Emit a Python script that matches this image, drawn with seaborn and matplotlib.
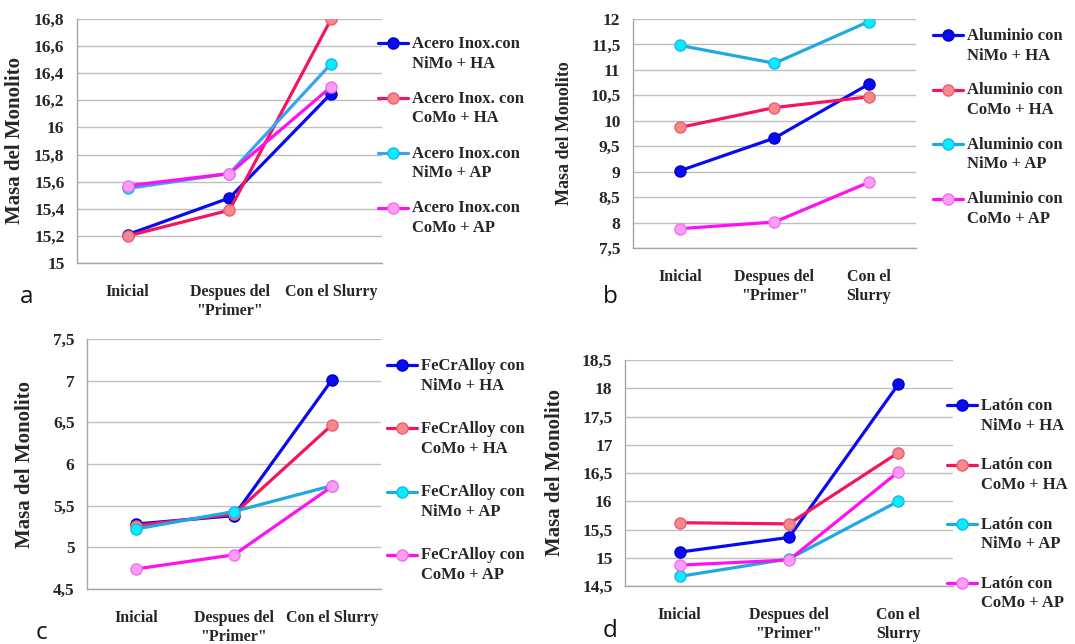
import numpy as np
import matplotlib
matplotlib.use("Agg")
import matplotlib.pyplot as plt
import seaborn as sns
from matplotlib.legend_handler import HandlerLine2D
from matplotlib.ticker import FuncFormatter

# ---- data -------------------------------------------------------------
etapas_ac = ["Inicial", "Despues del\n\"Primer\"", "Con el Slurry"]
etapas_bd = ["Inicial", "Despues del\n\"Primer\"", "Con el\nSlurry"]
recubrimientos = ["NiMo + HA", "CoMo + HA", "NiMo + AP", "CoMo + AP"]

acero_nimo_ha = [15.21, 15.48, 16.25]
acero_como_ha = [15.20, 15.39, 16.80]
acero_nimo_ap = [15.55, 15.66, 16.47]
acero_como_ap = [15.57, 15.66, 16.30]

aluminio_nimo_ha = [9.02, 9.66, 10.72]
aluminio_como_ha = [9.87, 10.26, 10.47]
aluminio_nimo_ap = [11.48, 11.13, 11.95]
aluminio_como_ap = [7.88, 8.01, 8.79]

fecr_nimo_ha = [5.28, 5.38, 7.01]
fecr_como_ha = [5.26, 5.40, 6.47]
fecr_nimo_ap = [5.22, 5.43, 5.74]
fecr_como_ap = [4.74, 4.91, 5.73]

laton_nimo_ha = [15.10, 15.36, 18.07]
laton_como_ha = [15.62, 15.60, 16.86]
laton_nimo_ap = [14.67, 14.98, 16.00]
laton_como_ap = [14.87, 14.96, 16.52]

etiquetas_acero = ["Acero Inox.con", "Acero Inox. con", "Acero Inox.con", "Acero Inox.con"]
etiquetas_aluminio = ["Aluminio con"] * 4
etiquetas_fecr = ["FeCrAlloy con"] * 4
etiquetas_laton = ["Latón con"] * 4

# ---- style ------------------------------------------------------------
sns.set_theme(style="white")
plt.rcParams["font.family"] = ["Liberation Serif", "DejaVu Serif"]
plt.rcParams["font.weight"] = "bold"
plt.rcParams["axes.labelweight"] = "bold"

GRID = "#BFBFBF"
AXIS = "#A6A6A6"

# line colour, marker face, marker edge for each coating
estilos = [
    ("#0A0AF0", "#0A0AF0", "#0000C8"),
    ("#F5145F", "#F4898C", "#EE5E72"),
    ("#1EAAE0", "#00F0FF", "#22B4E8"),
    ("#FF10F0", "#FF9CF6", "#F070EE"),
]


class FirstLineHandler(HandlerLine2D):
    """Legend handle raised to sit beside the first line of a two-line label."""

    def __init__(self, lift, **kw):
        super().__init__(**kw)
        self.lift = lift

    def create_artists(self, legend, orig_handle, xdescent, ydescent,
                       width, height, fontsize, trans):
        arts = super().create_artists(legend, orig_handle, xdescent, ydescent,
                                      width, height, fontsize, trans)
        for a in arts:
            a.set_ydata(np.asarray(a.get_ydata(), dtype=float) + self.lift)
        return arts


def fmt(v, _pos):
    return f"{round(v, 2):g}".replace(".", ",")


W, H = 1075, 644
fig = plt.figure(figsize=(W / 100, H / 100), dpi=100)


def panel(rect_px, series, cabeceras, etapas, ylim, ystep, ylabel_size,
          ylabel_x, leg_xy, leg_spacing, letra, letra_xy, cyan_line=None,
          tick_size=12.5):
    l, t, r, b = rect_px
    ax = fig.add_axes([l / W, 1 - b / H, (r - l) / W, (b - t) / H])
    x = np.arange(len(etapas))
    handles = []
    for i, vals in enumerate(series):
        lc, mf, me = estilos[i]
        if i == 2 and cyan_line:
            lc = cyan_line
        sns.lineplot(x=x, y=vals, ax=ax, color=lc, linewidth=2.3,
                     marker="o", markersize=8, markerfacecolor=mf,
                     markeredgecolor=me, markeredgewidth=1.0, legend=False)
        handles.append(ax.lines[-1])
    ax.set_xlim(-0.5, len(etapas) - 0.5)
    ax.set_xticks(x)
    ax.set_xticklabels(etapas, fontsize=11.5, fontweight="bold",
                       linespacing=1.25)
    ax.set_xticks(np.arange(len(etapas) + 1) - 0.5, minor=True)
    ax.tick_params(axis="x", which="major", length=0, pad=15)
    ax.tick_params(axis="x", which="minor", length=5, width=1, color=AXIS,
                   direction="out")
    lo, hi = ylim
    ax.set_ylim(lo, hi)
    ax.set_yticks(np.arange(lo, hi + ystep / 2, ystep))
    ax.yaxis.set_major_formatter(FuncFormatter(fmt))
    ax.tick_params(axis="y", length=0, pad=9, labelsize=tick_size)
    for lab in ax.get_yticklabels():
        lab.set_fontweight("bold")
    ax.grid(axis="y", color=GRID, linewidth=1)
    ax.grid(axis="x", visible=False)
    ax.set_axisbelow(True)
    for s in ("top", "right"):
        ax.spines[s].set_visible(False)
    for s in ("left", "bottom"):
        ax.spines[s].set_color(AXIS)
        ax.spines[s].set_linewidth(1)
    ax.set_ylabel("Masa del Monolito", fontsize=ylabel_size, fontweight="bold")
    ax.yaxis.set_label_coords(ylabel_x, 0.5)

    etiquetas = [f"{c}\n{r_}" for c, r_ in zip(cabeceras, recubrimientos)]
    fs = 12
    leg = fig.legend(handles, etiquetas, loc="upper left",
                     bbox_to_anchor=(leg_xy[0] / W, 1 - leg_xy[1] / H),
                     frameon=False, borderpad=0, borderaxespad=0,
                     handlelength=1.8, handletextpad=0.25, numpoints=1,
                     labelspacing=leg_spacing,
                     prop={"family": "Liberation Serif", "weight": "bold",
                           "size": fs},
                     handler_map={h: FirstLineHandler(lift=0.64 * fs)
                                  for h in handles})
    for txt in leg.get_texts():
        txt.set_linespacing(1.3)
    fig.text(letra_xy[0] / W, 1 - letra_xy[1] / H, letra, fontsize=17.5,
             family="Open Sans", fontweight="normal", ha="center",
             va="baseline", color="#111111")
    return ax


panel((77, 19, 382, 263),
      [acero_nimo_ha, acero_como_ha, acero_nimo_ap, acero_como_ap],
      etiquetas_acero, etapas_ac, (15, 16.8), 0.2, 15, -0.17,
      (378, 36), 1.15, "a", (27, 303), cyan_line="#3AA2F2")

panel((633, 19, 916, 248),
      [aluminio_nimo_ha, aluminio_como_ha, aluminio_nimo_ap, aluminio_como_ap],
      etiquetas_aluminio, etapas_bd, (7.5, 12), 0.5, 13, -0.212,
      (933, 28), 1.13, "b", (610, 303))

panel((87, 339, 381, 589),
      [fecr_nimo_ha, fecr_como_ha, fecr_nimo_ap, fecr_como_ap],
      etiquetas_fecr, etapas_ac, (4.5, 7.5), 0.5, 15, -0.177,
      (387, 358), 1.65, "c", (41, 639))

panel((625, 360, 953, 586),
      [laton_nimo_ha, laton_como_ha, laton_nimo_ap, laton_como_ap],
      etiquetas_laton, etapas_bd, (14.5, 18.5), 0.5, 15, -0.183,
      (947, 398), 1.42, "d", (610, 637))

fig.savefig("out.png", dpi=100, facecolor="white")
